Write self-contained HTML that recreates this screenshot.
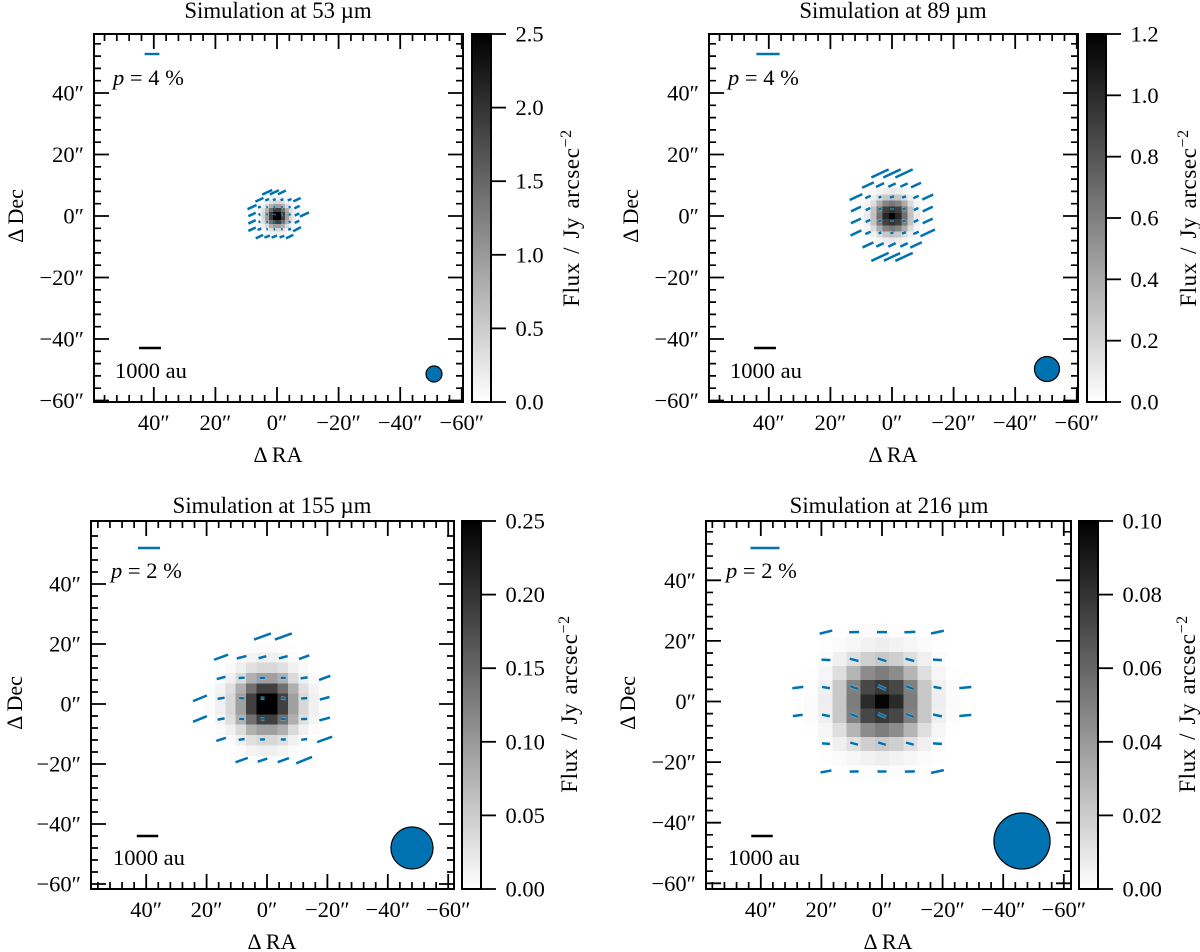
<!DOCTYPE html>
<html>
<head>
<meta charset="utf-8">
<title>Simulated polarisation maps</title>
<style>
html,body{margin:0;padding:0;background:#fff;}
svg{display:block;}
text{font-family:"Liberation Serif",serif;fill:#000;}
.title{font-size:22.8px;text-anchor:middle;}
.axt{font-size:22px;text-anchor:middle;}
.note{font-size:22.5px;}
.cbt{font-size:23px;text-anchor:middle;letter-spacing:0.6px;word-spacing:2px;}
.tick{font-size:22.5px;}
</style>
</head>
<body>
<svg id="fig" xmlns="http://www.w3.org/2000/svg" width="1200" height="952" viewBox="0 0 1200 952">
  <g id="panel0"></g>
  <g id="panel1"></g>
  <g id="panel2"></g>
  <g id="panel3"></g>

  <text class="title" x="278" y="18">Simulation at 53 µm</text>
  <text class="title" x="893" y="18">Simulation at 89 µm</text>
  <text class="title" x="272" y="513">Simulation at 155 µm</text>
  <text class="title" x="889" y="513">Simulation at 216 µm</text>

  <text class="axt" x="278" y="462">Δ RA</text>
  <text class="axt" x="893" y="462">Δ RA</text>
  <text class="axt" x="272" y="949">Δ RA</text>
  <text class="axt" x="888" y="949">Δ RA</text>

  <text class="axt" transform="translate(23,216) rotate(-90)">Δ Dec</text>
  <text class="axt" transform="translate(638,216) rotate(-90)">Δ Dec</text>
  <text class="axt" transform="translate(22,703) rotate(-90)">Δ Dec</text>
  <text class="axt" transform="translate(635,703) rotate(-90)">Δ Dec</text>

  <text class="note" x="113" y="85"><tspan font-style="italic">p</tspan> = 4 %</text>
  <text class="note" x="728" y="85"><tspan font-style="italic">p</tspan> = 4 %</text>
  <text class="note" x="111" y="578"><tspan font-style="italic">p</tspan> = 2 %</text>
  <text class="note" x="726" y="578"><tspan font-style="italic">p</tspan> = 2 %</text>

  <text class="note" x="115" y="378">1000 au</text>
  <text class="note" x="730" y="378">1000 au</text>
  <text class="note" x="113" y="865">1000 au</text>
  <text class="note" x="728" y="865">1000 au</text>

  <text class="cbt" transform="translate(579,218) rotate(-90)">Flux / Jy arcsec<tspan dy="-8" font-size="16">−2</tspan></text>
  <text class="cbt" transform="translate(1196,218) rotate(-90)">Flux / Jy arcsec<tspan dy="-8" font-size="16">−2</tspan></text>
  <text class="cbt" transform="translate(577,704) rotate(-90)">Flux / Jy arcsec<tspan dy="-8" font-size="16">−2</tspan></text>
  <text class="cbt" transform="translate(1195,704) rotate(-90)">Flux / Jy arcsec<tspan dy="-8" font-size="16">−2</tspan></text>
</svg>

<script>
// ---------- shared axis data ----------
var skyTickValues = [40, 20, 0, -20, -40, -60];
var skyTickLabels = ['40″', '20″', '0″', '−20″', '−40″', '−60″'];
var decTickValues = [40, 20, 0, -20, -40, -60];
var decTickLabels = ['40″', '20″', '0″', '−20″', '−40″', '−60″'];
var minorTickStep = 4;

// ---------- 53 um ----------
var cbTicks53 = [0, 0.5, 1, 1.5, 2, 2.5];
var cbLabels53 = ['0.0', '0.5', '1.0', '1.5', '2.0', '2.5'];
var fluxMax53 = 2.5;
var cellSize53 = 1.275;
var flux53 = [
  [3.0, 1.87, 0.93, 0.38, 0.15, 0.04],
  [1.87, 1.40, 0.77, 0.30, 0.11, 0.02],
  [0.93, 0.77, 0.35, 0.15, 0.04, 0.01],
  [0.38, 0.30, 0.15, 0.05, 0.01, 0],
  [0.15, 0.11, 0.04, 0.01, 0, 0],
  [0.04, 0.02, 0.01, 0, 0, 0]
];
var ra53 = [8.1, 5.7, 3.2, 0.87, -1.6, -4.1, -6.5, -8.9];
var dec53 = [7.7, 5.3, 2.9, 0.5, -1.9, -4.3, -6.7];
var pol53 = [
  [null, null, 3.0, 2.7, 2.4, null, null, null],
  [null, 2.4, 1.1, 0.8, 0.8, 1.1, 2.2, null],
  [2.7, 0.8, 0.4, 0.4, 0.4, 0.54, 1.6, null],
  [2.2, 0.54, 0.4, 0.27, 0.4, 0.54, 1.35, 2.7],
  [2.2, 0.54, 0.4, 0.27, 0.27, 0.54, 1.35, null],
  [2.2, 1.1, 0.4, 0.4, 0.4, 0.8, 2.4, null],
  [null, 2.2, 1.6, 1.6, 1.35, 2.2, null, null]
];
var angle53 = [
  [0, 0, 25, 25, 25, 0, 0, 0],
  [0, 25, 20, 20, 20, 20, 25, 0],
  [25, 20, 20, 20, 20, 20, 25, 0],
  [25, 20, 20, 80, 20, 20, 25, 25],
  [25, 20, 20, 20, 20, 20, 25, 0],
  [25, 20, 20, 20, 20, 20, 28, 0],
  [0, 25, 20, 20, 20, 25, 0, 0]
];

// ---------- 89 um ----------
var cbTicks89 = [0, 0.2, 0.4, 0.6, 0.8, 1.0, 1.2];
var cbLabels89 = ['0.0', '0.2', '0.4', '0.6', '0.8', '1.0', '1.2'];
var fluxMax89 = 1.2;
var cellSize89 = 2.01;
var flux89 = [
  [1.2, 1.01, 0.67, 0.296, 0.099, 0.024],
  [0.97, 0.90, 0.617, 0.278, 0.08, 0.019],
  [0.635, 0.578, 0.39, 0.165, 0.052, 0.009],
  [0.296, 0.258, 0.165, 0.075, 0.019, 0],
  [0.099, 0.08, 0.052, 0.019, 0.005, 0],
  [0.024, 0.019, 0.009, 0.005, 0, 0]
];
var ra89 = [11.7, 7.8, 3.9, 0, -3.9, -7.8, -11.6];
var dec89 = [13.85, 10.06, 6.17, 2.27, -1.6, -5.5, -9.4, -13.3];
var pol89 = [
  [null, null, 3.3, 3.3, 3.3, null, null],
  [null, 2.2, 1.55, 1.4, 1.4, 1.9, null],
  [2.4, 1.03, 0.5, 0.7, 0.7, 1.03, 2.07],
  [1.9, 0.86, 0.43, 0.34, 0.43, 0.86, 1.9],
  [1.9, 0.86, 0.43, 0.34, 0.43, 0.86, 1.9],
  [2.07, 1.03, 0.5, 0.5, 0.7, 1.03, 2.76],
  [null, 2.07, 1.4, 1.4, 1.4, 2.2, null],
  [null, null, 3.3, 3.1, 3.3, null, null]
];
var angle89 = [
  [0, 0, 25, 25, 25, 0, 0],
  [0, 25, 25, 25, 25, 25, 0],
  [25, 25, 20, 20, 20, 25, 25],
  [25, 25, 20, 80, 20, 25, 25],
  [25, 25, 20, 80, 20, 25, 25],
  [25, 25, 20, 15, 20, 25, 25],
  [0, 25, 25, 25, 25, 25, 0],
  [0, 0, 25, 25, 25, 0, 0]
];

// ---------- 155 um ----------
var cbTicks155 = [0, 0.05, 0.10, 0.15, 0.20, 0.25];
var cbLabels155 = ['0.00', '0.05', '0.10', '0.15', '0.20', '0.25'];
var fluxMax155 = 0.25;
var cellSize155 = 3.45;
var flux155 = [
  [0.30, 0.187, 0.093, 0.038, 0.015, 0.004],
  [0.187, 0.14, 0.077, 0.03, 0.011, 0.002],
  [0.093, 0.077, 0.035, 0.015, 0.004, 0.001],
  [0.038, 0.03, 0.015, 0.005, 0.001, 0],
  [0.015, 0.011, 0.004, 0.001, 0, 0],
  [0.004, 0.002, 0.001, 0, 0, 0]
];
var ra155 = [22.2, 15.2, 8.4, 1.5, -5.4, -12.3, -19.1];
var dec155 = [22.5, 15.6, 8.7, 1.9, -5, -11.8, -18.7];
var pol155 = [
  [null, null, null, 1.64, 1.64, null, null],
  [null, 1.36, 0.91, 0.73, 0.82, 1.0, null],
  [null, 0.82, 0.55, 0.45, 0.45, 0.64, 1.09],
  [1.36, 0.64, 0.45, 0.36, 0.45, 0.55, 0.91],
  [1.36, 0.64, 0.45, 0.36, 0.45, 0.55, 1.0],
  [null, 0.91, 0.55, 0.45, 0.45, 0.55, 1.45],
  [null, null, 1.18, 0.91, 1.09, 1.55, null]
];
var angle155 = [
  [0, 0, 0, 20, 20, 0, 0],
  [0, 20, 15, 15, 15, 20, 0],
  [0, 15, 5, 0, 0, 8, 20],
  [22, 10, -3, -5, -5, 3, 15],
  [22, 10, -3, -5, -5, 3, 15],
  [0, 18, 8, 2, 2, 8, 20],
  [0, 0, 20, 18, 20, 22, 0]
];

// ---------- 216 um ----------
var cbTicks216 = [0, 0.02, 0.04, 0.06, 0.08, 0.10];
var cbLabels216 = ['0.00', '0.02', '0.04', '0.06', '0.08', '0.10'];
var fluxMax216 = 0.10;
var cellSize216 = 4.685;
var flux216 = [
  [0.098, 0.0835, 0.051, 0.0216, 0.0067, 0.0016],
  [0.078, 0.072, 0.05, 0.0216, 0.0059, 0.0012],
  [0.051, 0.045, 0.029, 0.013, 0.0035, 0.0004],
  [0.0216, 0.019, 0.012, 0.0059, 0.0016, 0],
  [0.0067, 0.005, 0.0035, 0.0016, 0.0004, 0],
  [0.0016, 0.0012, 0.0008, 0.0004, 0, 0]
];
var ra216 = [27.8, 18.5, 9.2, 0, -9.2, -18.3, -27.5];
var dec216 = [22.9, 13.75, 4.6, -4.6, -13.9, -23.1];
var pol216 = [
  [null, 0.9, 0.69, 0.69, 0.76, 0.9, null],
  [null, 0.62, 0.62, 0.62, 0.62, 0.62, null],
  [0.76, 0.55, 0.55, 0.62, 0.55, 0.55, 0.83],
  [0.69, 0.55, 0.55, 0.62, 0.55, 0.62, 0.83],
  [null, 0.55, 0.55, 0.55, 0.55, 0.62, null],
  [null, 0.76, 0.62, 0.62, 0.69, 0.9, null]
];
var angle216 = [
  [0, 14, 2, 0, 2, 12, 0],
  [0, -3, -15, -18, -15, -3, 0],
  [7, -10, -20, -25, -20, -10, 5],
  [8, -12, -20, -25, -20, -12, 5],
  [0, -3, -15, -18, -15, -3, 0],
  [0, 10, 1, 0, 1, 12, 0]
];

// beam FWHM (arcsec), polarisation reference (%), distance bar (arcsec)
var beamFwhm = [4.85, 7.8, 13.6, 18.2];
var polReference = [4, 4, 2, 2];
var distanceBarArcsec = [7.1, 7.1, 7.1, 7.1];

// ---------- layout (pixels, not data) ----------
var layouts = [
  {l:94,r:463,t:34,b:402,cx:277,cy:216,sx:3.08,sy:3.075,cbl:472,cbr:491,polPx:3.7,beam:[434,374],polY:54,polX:152,barX:150,barY:348,endX:84},
  {l:709,r:1078,t:34,b:402,cx:892,cy:216,sx:3.08,sy:3.075,cbl:1087,cbr:1106,polPx:5.8,beam:[1047,369],polY:54,polX:768,barX:765,barY:348,endX:699},
  {l:91,r:454,t:521,b:889,cx:267,cy:704,sx:3.02,sy:3.0,cbl:462,cbr:481,polPx:11,beam:[412,848],polY:548,polX:149,barX:147.5,barY:836,endX:81},
  {l:706,r:1071,t:521,b:889,cx:882,cy:701.5,sx:3.03,sy:3.03,cbl:1079,cbr:1098,polPx:14.5,beam:[1022,841],polY:548,polX:765,barX:762,barY:836,endX:696}
];

var panelSeries = [
  {flux:flux53, vmax:fluxMax53, cell:cellSize53, even:true, ra:ra53, dec:dec53, pol:pol53, angle:angle53, cbTicks:cbTicks53, cbLabels:cbLabels53},
  {flux:flux89, vmax:fluxMax89, cell:cellSize89, even:false, ra:ra89, dec:dec89, pol:pol89, angle:angle89, cbTicks:cbTicks89, cbLabels:cbLabels89},
  {flux:flux155, vmax:fluxMax155, cell:cellSize155, even:true, ra:ra155, dec:dec155, pol:pol155, angle:angle155, cbTicks:cbTicks155, cbLabels:cbLabels155},
  {flux:flux216, vmax:fluxMax216, cell:cellSize216, even:false, ra:ra216, dec:dec216, pol:pol216, angle:angle216, cbTicks:cbTicks216, cbLabels:cbLabels216}
];

var NS = 'http://www.w3.org/2000/svg';
var BLUE = '#0072b2';

function make(parent, tag, attrs) {
  var el = document.createElementNS(NS, tag);
  for (var k in attrs) el.setAttribute(k, attrs[k]);
  parent.appendChild(el);
  return el;
}

function drawPanel(index) {
  var L = layouts[index], S = panelSeries[index];
  var g = document.getElementById('panel' + index);
  var xScale = function (ra) { return L.cx - ra * L.sx; };
  var yScale = function (dec) { return L.cy - dec * L.sy; };
  var cbScale = function (v) { return L.b - (v / S.vmax) * (L.b - L.t); };
  var el;

  // heatmap cells
  var half = S.cell / 2;
  S.flux.forEach(function (row, r) {
    row.forEach(function (v, c) {
      if (!v) return;
      var shade = Math.round(255 * (1 - Math.min(v / S.vmax, 1)));
      var offX = S.even ? (c + 0.5) * S.cell : c * S.cell;
      var offY = S.even ? (r + 0.5) * S.cell : r * S.cell;
      var signsX = (offX === 0) ? [1] : [1, -1];
      var signsY = (offY === 0) ? [1] : [1, -1];
      signsX.forEach(function (sx) {
        signsY.forEach(function (sy) {
          var x0 = xScale(sx * offX + half), x1 = xScale(sx * offX - half);
          var y0 = yScale(sy * offY + half), y1 = yScale(sy * offY - half);
          el = make(g, 'rect', {x: x0, y: y0, width: x1 - x0, height: y1 - y0,
            fill: 'rgb(' + shade + ',' + shade + ',' + shade + ')', 'shape-rendering': 'crispEdges'});
          
          
        });
      });
    });
  });

  // polarisation vectors
  S.dec.forEach(function (dec, r) {
    S.ra.forEach(function (ra, c) {
      var p = S.pol[r][c];
      if (p === null) return;
      var a = S.angle[r][c] * Math.PI / 180;
      var hl = p * L.polPx / 2;
      var px = xScale(ra), py = yScale(dec);
      var dx = Math.cos(a) * hl, dy = Math.sin(a) * hl;
      el = make(g, 'line', {x1: px - dx, y1: py + dy, x2: px + dx, y2: py - dy,
        stroke: '#ffffff', 'stroke-width': 3.4, 'stroke-opacity': 0.55});
      
      
      el = make(g, 'line', {x1: px - dx, y1: py + dy, x2: px + dx, y2: py - dy,
        stroke: BLUE, 'stroke-width': 2.5});
      
      
    });
  });

  // beam
  el = make(g, 'circle', {cx: L.beam[0], cy: L.beam[1], r: beamFwhm[index] * L.sx / 2 + 0.5,
    fill: BLUE, stroke: '#000', 'stroke-width': 1.2});
  
  

  // polarisation reference bar
  var polLen = polReference[index] * L.polPx;
  el = make(g, 'line', {x1: L.polX - polLen / 2, x2: L.polX + polLen / 2, y1: L.polY, y2: L.polY,
    stroke: BLUE, 'stroke-width': 2.4});
  
  

  // distance bar
  var barLen = distanceBarArcsec[index] * L.sx;
  el = make(g, 'line', {x1: L.barX - barLen / 2, x2: L.barX + barLen / 2, y1: L.barY, y2: L.barY,
    stroke: '#000', 'stroke-width': 2.4});
  
  

  // minor ticks
  for (var v = -64; v <= 64; v += minorTickStep) {
    if (v % 20 === 0) continue;
    var mx = xScale(v), my = yScale(v);
    if (mx > L.l + 0.5 && mx < L.r - 0.5) {
      el = make(g, 'path', {d: 'M' + mx + ' ' + L.b + 'v-7M' + mx + ' ' + L.t + 'v7', stroke: '#000', 'stroke-width': 1.7, fill: 'none'});
      
      
    }
    if (my > L.t + 0.5 && my < L.b - 0.5) {
      el = make(g, 'path', {d: 'M' + L.l + ' ' + my + 'h7M' + L.r + ' ' + my + 'h-7', stroke: '#000', 'stroke-width': 1.7, fill: 'none'});
      
      
    }
  }

  // major ticks and labels
  skyTickValues.forEach(function (v, i) {
    var tx = xScale(v);
    el = make(g, 'path', {d: 'M' + tx + ' ' + L.b + 'v-15M' + tx + ' ' + L.t + 'v15', stroke: '#000', 'stroke-width': 1.8, fill: 'none'});
    
    
    el = make(g, 'text', {x: tx, y: L.b + 28, 'class': 'tick', 'text-anchor': 'middle'});
    
    
    el.textContent = skyTickLabels[i];
  });
  decTickValues.forEach(function (v, i) {
    var ty = yScale(v);
    el = make(g, 'path', {d: 'M' + L.l + ' ' + ty + 'h15M' + L.r + ' ' + ty + 'h-15', stroke: '#000', 'stroke-width': 1.8, fill: 'none'});
    
    
    el = make(g, 'text', {x: L.endX, y: ty + 7.5, 'class': 'tick', 'text-anchor': 'end'});
    
    
    el.textContent = decTickLabels[i];
  });

  // axes frame
  el = make(g, 'rect', {x: L.l, y: L.t, width: L.r - L.l, height: L.b - L.t, fill: 'none', stroke: '#000', 'stroke-width': 2});
  
  

  // colorbar gradient
  var defs = make(g, 'defs', {});
  var grad = make(defs, 'linearGradient', {id: 'cbgrad' + index, x1: 0, y1: 1, x2: 0, y2: 0});
  make(grad, 'stop', {offset: '0', 'stop-color': '#ffffff'});
  make(grad, 'stop', {offset: '1', 'stop-color': '#000000'});
  el = make(g, 'rect', {x: L.cbl, y: L.t, width: L.cbr - L.cbl, height: L.b - L.t, fill: 'url(#cbgrad' + index + ')', stroke: '#000', 'stroke-width': 2});
  
  

  S.cbTicks.forEach(function (v, i) {
    var ty = cbScale(v);
    el = make(g, 'line', {x1: L.cbr, x2: L.cbr + 15, y1: ty, y2: ty, stroke: '#000', 'stroke-width': 1.8});
    
    
    el = make(g, 'text', {x: L.cbr + 24.5, y: ty + 7.5, 'class': 'tick'});
    
    
    el.textContent = S.cbLabels[i];
  });
}

layouts.forEach(function (_, i) { drawPanel(i); });
</script>
</body>
</html>
